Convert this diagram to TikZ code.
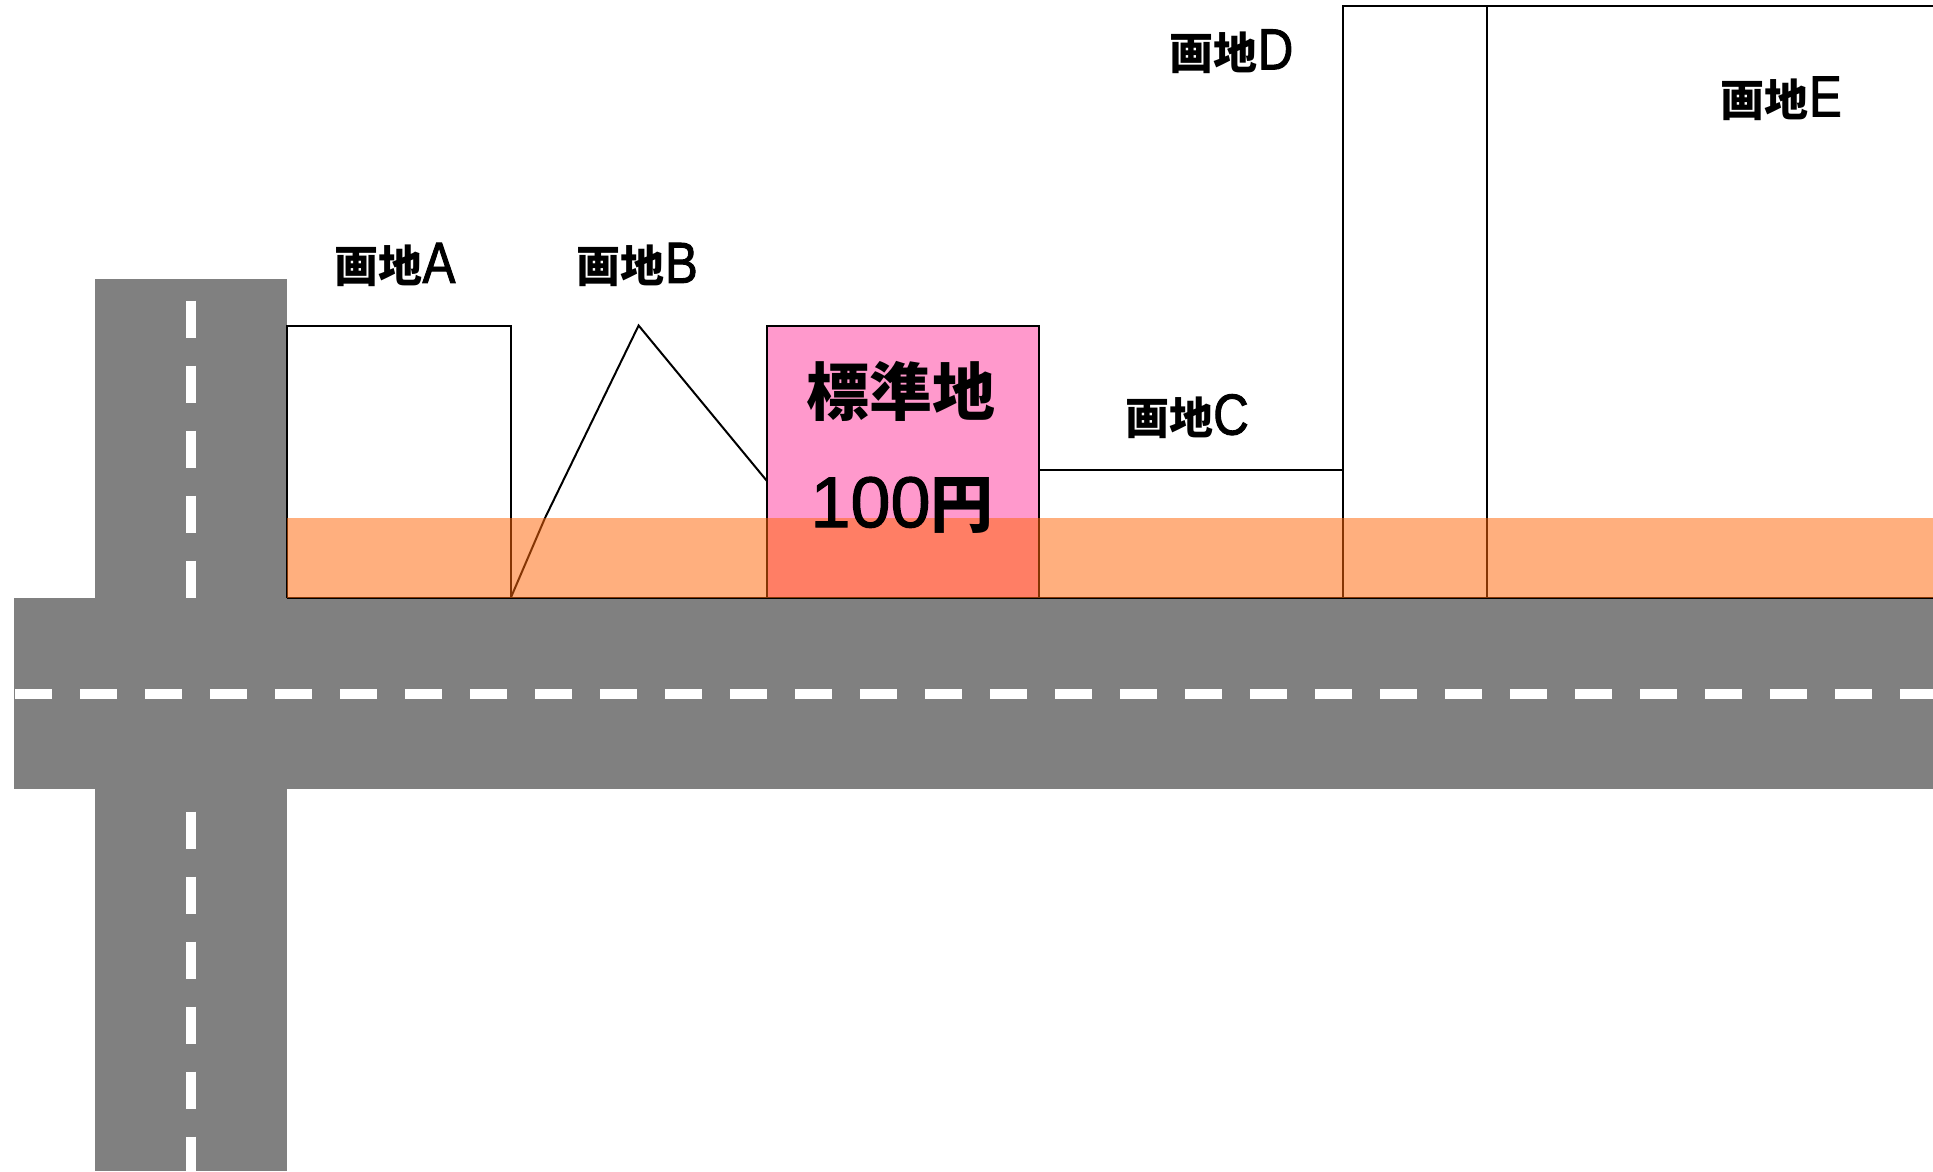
\documentclass[tikz,border=0pt]{standalone}
\usepackage{fontspec}
\setmainfont{Noto Sans CJK JP}
\newfontfamily\latn{Liberation Sans}[FakeStretch=0.85, FakeBold=1.6]
\newfontfamily\arialf{Liberation Sans}[FakeBold=1.5]
\newcommand\lotlatin[1]{{\latn\fontsize{58}{60}\selectfont\mdseries #1}}
\definecolor{roadgray}{RGB}{128,128,128}
\definecolor{bandorange}{RGB}{255,103,8}
\definecolor{stdpink}{RGB}{255,153,204}
\tikzset{
  roadfill/.style={fill=roadgray, draw=none},
  centerline/.style={draw=white, line width=9.7pt, dash pattern=on 37pt off 28pt},
  lot/.style={draw=black, line width=2pt, line join=miter},
  band/.style={fill=bandorange, fill opacity=0.52, draw=none},
  lbl/.style={font=\fontsize{44}{50}\selectfont\bfseries, inner sep=0pt},
  biglbl/.style={font=\fontsize{63}{70}\selectfont\bfseries, inner sep=0pt},
  pricelbl/.style={inner sep=0pt}
}
\begin{document}
\begin{tikzpicture}[x=1pt,y=-1pt]
\useasboundingbox (0,0) rectangle (1933,1171);
\clip (0,0) rectangle (1933,1171);
\fill[white] (0,0) rectangle (1933,1171);
% roads
\path[roadfill] (95,278.6) rectangle (287,1171);
\path[roadfill] (13.6,598) rectangle (1933,789);
% centre lines
\coordinate (vt1) at (190.7,300.7);
\coordinate (vt2) at (190.7,598);
\coordinate (vb1) at (190.7,811.5);
\coordinate (vb2) at (190.7,1180);
\coordinate (h1) at (15,693.7);
\coordinate (h2) at (1940,693.7);
\draw[centerline] (vt1) -- (vt2);
\draw[centerline] (vb1) -- (vb2);
\draw[centerline] (h1) -- (h2);
% lots
\draw[lot] (287,598) -- (287,325.5) -- (510.7,325.5) -- (510.7,598);
\draw[lot] (510.7,598) -- (545,518) -- (638.6,325.5) -- (766.8,480.8);
\draw[lot, fill=stdpink] (766.8,598) rectangle (1039.2,325.5);
\draw[lot] (1039.2,469.7) -- (1342.6,469.7) -- (1342.6,598);
\draw[lot] (1342.6,469.7) -- (1342.6,6.2) -- (1486.7,6.2) -- (1486.7,598);
\draw[lot] (1486.7,6.2) -- (1940,6.2);
\draw[lot] (287,598) -- (1940,598);
% road-side band
\path[band] (287,517.7) rectangle (1940,598);
% labels
\node[lbl] (la) at (395,265) {画地\lotlatin{A}};
\node[lbl] (lb) at (637.4,265) {画地\lotlatin{B}};
\node[lbl] (lc) at (1187,416.5) {画地\lotlatin{C}};
\node[lbl] (ld) at (1231.5,51.5) {画地\lotlatin{D}};
\node[lbl] (le) at (1781.4,98.6) {画地\lotlatin{E}};
\node[biglbl] (ls) at (901,391) {標準地};
\node[pricelbl] (lp) at (902,505) {{\arialf\fontsize{72}{76}\selectfont 100}{\fontsize{63}{66}\selectfont\bfseries 円}};
\end{tikzpicture}
\end{document}
